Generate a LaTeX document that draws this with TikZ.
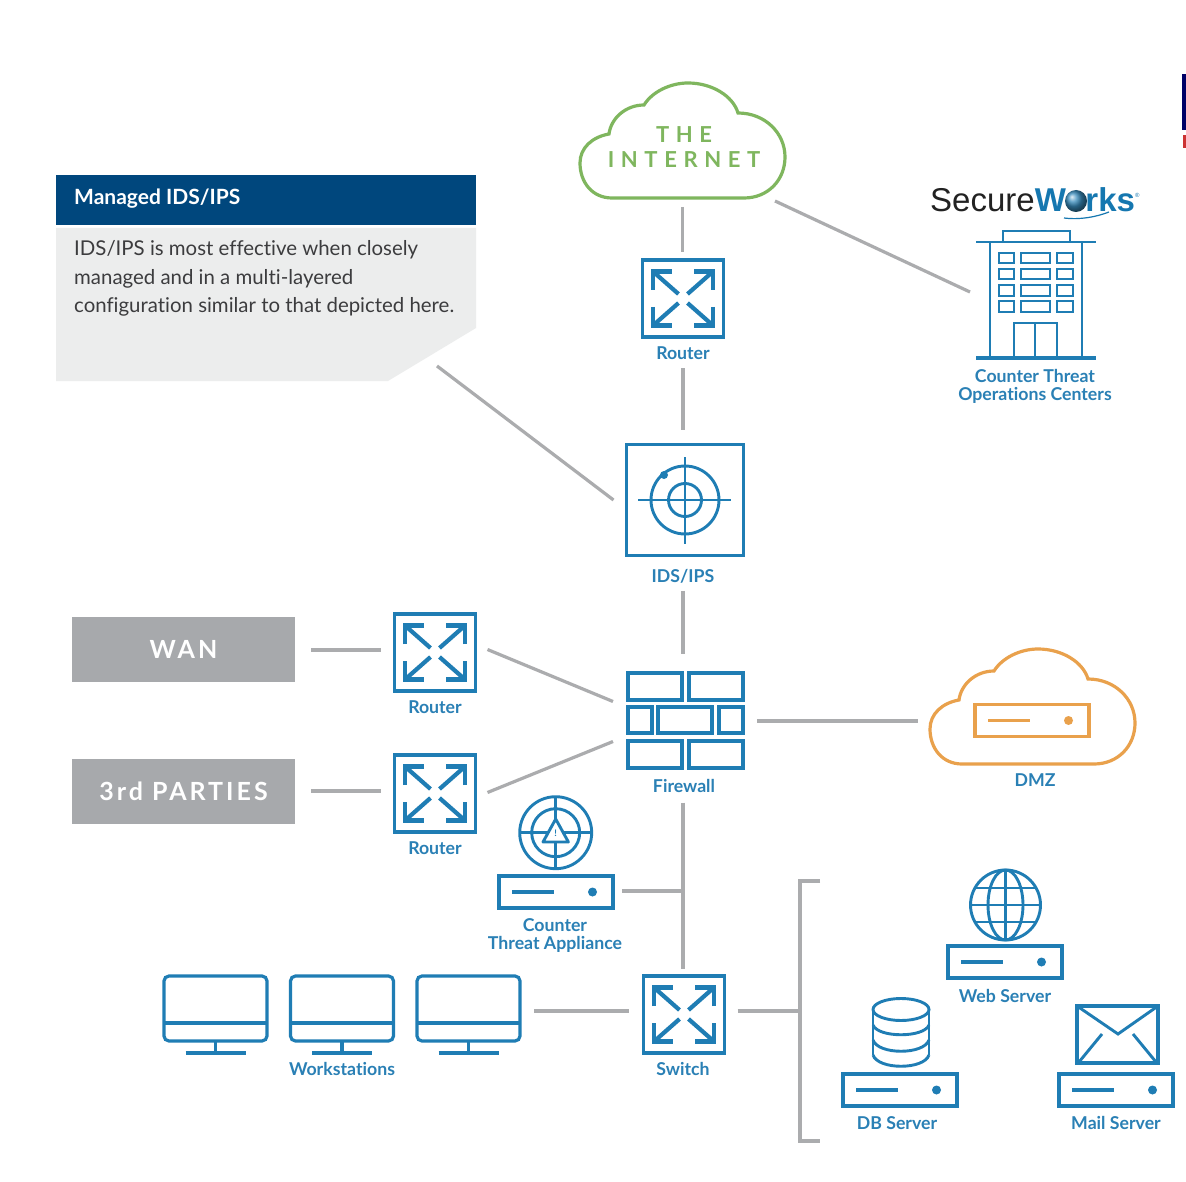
\documentclass[tikz,border=0pt]{standalone}
\usepackage{fontspec}
\setmainfont[Ligatures=NoCommon]{Lato}
\newfontfamily\logofont{Liberation Sans}
\usetikzlibrary{calc}
\definecolor{iconblue}{HTML}{1F7DB4}
\definecolor{labelblue}{HTML}{2A80B5}
\definecolor{linegray}{HTML}{ABACAE}
\definecolor{boxgray}{HTML}{A7A9AC}
\definecolor{cloudgreen}{HTML}{7FB65E}
\definecolor{cloudorange}{HTML}{E9A14C}
\definecolor{headnavy}{HTML}{00477D}
\definecolor{notegray}{HTML}{ECEDED}
\definecolor{notetext}{HTML}{3C3C3E}
\definecolor{logoblue}{HTML}{1577B0}
\definecolor{logoblack}{HTML}{222222}
\tikzset{
  conn/.style={draw=linegray,line width=3.2pt},
  icon/.style={draw=iconblue,line width=3.2pt},
  iconthin/.style={draw=iconblue,line width=2.9pt},
  iconthick/.style={draw=iconblue,line width=4.2pt},
  ghost/.style={inner sep=0pt,outer sep=0pt,draw=none},
  boxnode/.style={icon,inner sep=0pt,outer sep=0pt,fill=none},
  lab/.style={text=labelblue,font=\fontsize{17.7}{18}\selectfont\bfseries,align=center,inner sep=0pt,outer sep=0pt},
  banner/.style={fill=boxgray,text=white,inner sep=0pt,outer sep=0pt,minimum width=223pt,minimum height=65pt},
  bannertext/.style={font=\fontsize{25}{25}\selectfont\bfseries\addfontfeatures{LetterSpace=12}},
  cloudtext/.style={text=cloudgreen,inner sep=0pt,font=\fontsize{22}{22}\selectfont\bfseries\addfontfeatures{LetterSpace=30}},
}
\newcommand{\cloudpath}{(-70.5,57) .. controls (-90.5,57) and (-102.5,41) .. (-102.5,22)
  .. controls (-102.5,7) and (-90.5,-4) .. (-73.5,-7)
  .. controls (-71.5,-23) and (-56.5,-36) .. (-38.5,-36)
  .. controls (-30.5,-49) and (-12.5,-58) .. (5.5,-58)
  .. controls (29.5,-58) and (50.5,-45) .. (55.5,-28)
  .. controls (82.5,-28) and (102.5,-8) .. (102.5,16)
  .. controls (102.5,39) and (85.5,57) .. (61.5,57) -- cycle}
\newcommand{\routericon}[3]{%
  \node[boxnode,minimum width=81pt,minimum height=77pt] (#1) at (#2,#3) {};
  \begin{scope}[shift={(#2,#3)}]
    \foreach \sx/\sy in {-1/-1,1/-1,-1/1,1/1}{
      \draw[iconthick,line join=miter]
        ({\sx*30},{\sy*8.5}) -- ({\sx*30},{\sy*27}) -- ({\sx*11},{\sy*27});
      \draw[iconthick] ({\sx*30},{\sy*27}) -- ({\sx*4.5},{\sy*4.5});
    }
  \end{scope}}
\newcommand{\servericon}[4][iconblue]{%
  \node[draw=#1,line width=3.2pt,inner sep=0pt,outer sep=0pt,minimum width=114pt,minimum height=32pt] (#2) at (#3,#4) {};
  \begin{scope}[shift={(#3,#4)}]
    \draw[draw=#1,line width=3.2pt] (-44,0) -- (-2,0);
    \fill[#1] (36.5,0) circle (4.5);
  \end{scope}}
\newcommand{\monitoricon}[3]{%
  \node[boxnode,rounded corners=5pt,minimum width=103pt,minimum height=65pt] (#1) at (#2,#3) {};
  \begin{scope}[shift={(#2,#3)}]
    \draw[icon] (-51.5,14.5) -- (51.5,14.5);
    \draw[icon] (0,33) -- (0,44);
    \draw[icon] (-30,44.5) -- (30,44.5);
  \end{scope}}
\begin{document}
\begin{tikzpicture}[x=1pt,y=-1pt]
\useasboundingbox (0,0) rectangle (1186,1182);
\fill[white] (0,0) rectangle (1186,1182);
% cut-off fragment at the right edge
\fill[black!10!blue!45!black] (1182,74) rectangle (1186,130);
\fill[red!75!black!80] (1183,135) rectangle (1186,148);

% note
\node[fill=headnavy,inner sep=0pt,outer sep=0pt,minimum width=420pt,minimum height=50pt] (head) at (266,200) {};
\node[anchor=west,text=white,inner sep=0pt,font=\fontsize{21}{21}\selectfont\bfseries] (headt) at (74,198.5) {Managed IDS/IPS};
\fill[notegray] (56,228) -- (476,228) -- (476,328) -- (388,381) -- (56,381) -- cycle;
\node[ghost,minimum width=420pt,minimum height=153pt] (note) at (266,304.5) {};
\node[anchor=north west,text=notetext,inner sep=0pt,align=left,font=\fontsize{20.4}{28.6}\selectfont] (notet) at (74,240.5)
 {IDS/IPS is most effective when closely\\managed and in a multi-layered\\configuration similar to that depicted here.};

% internet cloud
\node[ghost,minimum width=207pt,minimum height=116pt] (internet) at (682.5,141) {};
\draw[draw=cloudgreen,line width=3.2pt,shift={(682.5,141)}] \cloudpath;
\node[cloudtext] (inett1) at (684,134.5) {THE};
\node[cloudtext] (inett2) at (684,160) {INTERNET};

% logo
\node[anchor=west,inner sep=0pt,text=logoblack,font=\fontsize{33}{33}\logofont] (logo) at (930,200)
  {Secure{\bfseries\color{logoblue}W{o}rks}\raisebox{14pt}{\color{logoblue}\fontsize{6}{6}\selectfont\textregistered}};
\shade[ball color=logoblue!85] (1076,201) circle (11);
\draw[draw=logoblue,line width=1.2pt] (1064,218) .. controls (1080,220) and (1096,217) .. (1109,212);

% building
\node[ghost,minimum width=120pt,minimum height=127pt] (hq) at (1036,295) {};
\draw[iconthin] (1003,242) -- (1003,231) -- (1070,231) -- (1070,242);
\draw[iconthin] (976,242) -- (1096,242);
\draw[iconthin] (990,242) -- (990,358);
\draw[iconthin] (1082,242) -- (1082,358);
\draw[icon] (976,358) -- (1096,358);
\foreach \ya/\yb in {253/263,269/279,285/296,301/312}{
  \draw[iconthin] (999,\ya) rectangle (1014,\yb);
  \draw[iconthin] (1021,\ya) rectangle (1050,\yb);
  \draw[iconthin] (1057,\ya) rectangle (1073,\yb);
}
\draw[iconthin] (1014,358) -- (1014,323) -- (1057,323) -- (1057,358);
\draw[iconthin] (1035,323) -- (1035,358);
\node[lab] (hql) at (1035,386) {Counter Threat\\Operations Centers};

% top router
\routericon{r1}{683}{298.5}
\node[lab] (r1l) at (683,353) {Router};

% IDS
\node[boxnode,minimum width=117pt,minimum height=111pt] (ids) at (685,500) {};
\draw[iconthin] (685,500) circle (34);
\draw[iconthin] (685,500) circle (16.5);
\draw[iconthin] (638,500) -- (731,500);
\draw[iconthin] (685,457) -- (685,544);
\fill[iconblue] (664,475) circle (4);
\node[lab] (idsl) at (683,576) {IDS/IPS};

% banners
\node[banner,bannertext] (wan) at (183.5,649.5) {WAN};
\node[banner,bannertext] (third) at (183.5,791.5) {3rd PARTIES};

% side routers
\routericon{r2}{435}{652.5}
\node[lab] (r2l) at (435,707) {Router};
\routericon{r3}{435}{793.5}
\node[lab] (r3l) at (435,848) {Router};

% firewall
\node[ghost,minimum width=115pt,minimum height=95pt] (fw) at (685.5,720.5) {};
\foreach \xa/\xb/\ya/\yb in {628/682/673/700,689/743/673/700,628/652/707/733,658/712/707/733,719/743/707/733,628/682/741/768,689/743/741/768}{
  \draw[icon] (\xa,\ya) rectangle (\xb,\yb);
}
\node[lab] (fwl) at (684,786) {Firewall};

% DMZ
\node[ghost,minimum width=207pt,minimum height=116pt] (dmz) at (1032.5,707) {};
\draw[draw=cloudorange,line width=3.2pt,shift={(1032.5,707)}] \cloudpath;
\servericon[cloudorange]{dmzs}{1032}{720.5}
\node[lab] (dmzl) at (1035,780) {DMZ};

% counter threat appliance
\node[ghost,minimum width=74pt,minimum height=74pt] (cta) at (555.7,832.7) {};
\draw[iconthin] (555.7,832.7) circle (36);
\draw[iconthin] (555.7,832.7) circle (24);
\draw[iconthin] (519.7,832.7) -- (549,832.7);
\draw[iconthin] (562.4,832.7) -- (591.7,832.7);
\draw[iconthin] (555.7,796.7) -- (555.7,819);
\draw[iconthin] (555.7,842) -- (555.7,868.7);
\draw[iconthin,line join=round] (555.7,819) -- (543,842) -- (568.4,842) -- cycle;
\node[text=iconblue,inner sep=0pt,font=\fontsize{9}{9}\selectfont\bfseries] (ctamark) at (555.7,833) {!};
\servericon{ctas}{556}{892}
\node[lab] (ctal) at (555,935.5) {Counter\\Threat Appliance};

% workstations
\monitoricon{m1}{215.5}{1008.5}
\monitoricon{m2}{342}{1008.5}
\monitoricon{m3}{468.5}{1008.5}
\node[lab] (wsl) at (342,1069) {Workstations};

% switch
\routericon{sw}{684}{1014.5}
\node[lab] (swl) at (683,1069) {Switch};

% web server
\node[ghost,minimum width=72pt,minimum height=72pt] (globe) at (1005.5,905) {};
\draw[iconthin] (1005.5,905) circle (35);
\draw[iconthin] (1005.5,905) ellipse (17.5 and 35);
\draw[iconthin] (1005.5,870) -- (1005.5,940);
\draw[iconthin] (970.5,905) -- (1040.5,905);
\draw[iconthin] (975,888) -- (1036,888);
\draw[iconthin] (975,922) -- (1036,922);
\servericon{web}{1005}{962}
\node[lab] (webl) at (1005,996) {Web Server};

% db server
\node[ghost,minimum width=57pt,minimum height=68pt] (cyl) at (901,1032) {};
\draw[iconthin] (901,1009.5) ellipse (28 and 11);
\draw[iconthin] (873,1009.5) -- (873,1055);
\draw[iconthin] (929,1009.5) -- (929,1055);
\draw[iconthin] (873,1025) .. controls (878,1038) and (924,1038) .. (929,1025);
\draw[iconthin] (873,1040) .. controls (878,1055) and (924,1055) .. (929,1040);
\draw[iconthin] (873,1055) .. controls (878,1070) and (924,1070) .. (929,1055);
\servericon{db}{900}{1090}
\node[lab] (dbl) at (897,1123) {DB Server};

% mail server
\node[boxnode,minimum width=81pt,minimum height=57pt] (env) at (1117.5,1034.5) {};
\draw[iconthin] (1077,1006) -- (1118,1034) -- (1158,1006);
\draw[iconthin] (1079,1062) -- (1102,1034);
\draw[iconthin] (1156,1062) -- (1133,1034);
\servericon{mail}{1116}{1090}
\node[lab] (maill) at (1116,1123) {Mail Server};

% connectors
\draw[conn,shorten <=8pt,shorten >=8pt] (internet.south) -- (internet.south |- r1.north);
\draw[conn,shorten <=9pt,shorten >=15pt] (r1l.south) -- (r1l.south |- ids.north);
\draw[conn,shorten <=8pt,shorten >=19pt] (idsl.south) -- (idsl.south |- fw.north);
\draw[conn] ($(internet.south east)+(-11,2)$) -- ($(hq.west)+(-6,-3)$);
\draw[conn] ($(note.south east)+(-39,-15)$) -- ($(ids.west)+(-13,0)$);
\draw[conn] ($(wan.east)+(16,0.5)$) -- ($(r2.west)+(-13.5,-2.5)$);
\draw[conn] ($(third.east)+(16,-0.5)$) -- ($(r3.west)+(-13.5,-2.5)$);
\draw[conn] ($(r2.east)+(12,-3)$) -- ($(fw.west)+(-15,-19)$);
\draw[conn] ($(r3.east)+(12,-1)$) -- ($(fw.west)+(-15,21)$);
\draw[conn] ($(fw.east)+(14,0.5)$) -- ($(dmz.west)+(-11,14)$);
\draw[conn] ($(fwl.south)+(-1,10)$) -- ($(sw.north)+(-1,-7)$);
\draw[conn] ($(ctas.east)+(9,-1)$) -- ($(ctas.east)+(69,-1)$);
\draw[conn] ($(m3.east)+(14,2.5)$) -- ($(sw.west)+(-15,-3.5)$);
\coordinate (bracketTop) at (820,881);
\coordinate (bracketBot) at (820,1141);
\coordinate (bracketMid) at (800,1011);
\draw[conn] (bracketTop) -- (800,881) -- (800,1141) -- (bracketBot);
\draw[conn] ($(sw.east)+(13,-3.5)$) -- (bracketMid);
\end{tikzpicture}
\end{document}
